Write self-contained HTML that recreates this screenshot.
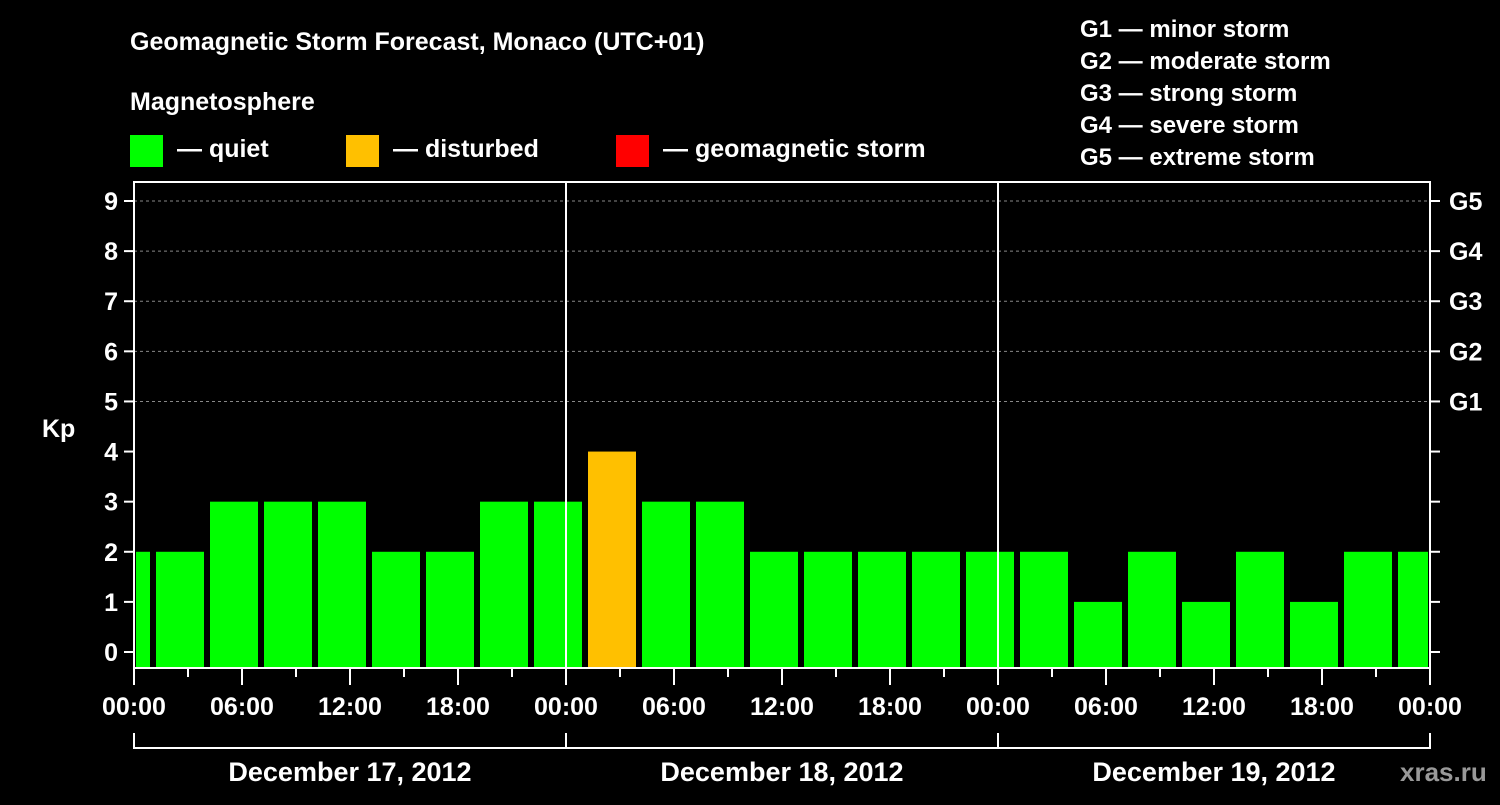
<!DOCTYPE html>
<html><head><meta charset="utf-8"><style>
body{margin:0;background:#000;width:1500px;height:800px;overflow:hidden}
svg text{font-family:"Liberation Sans",Arial,sans-serif;font-weight:bold;fill:#fff}
</style></head><body>
<svg id="c" width="1500" height="800" xmlns="http://www.w3.org/2000/svg">
<text x="130" y="50" font-size="25">Geomagnetic Storm Forecast, Monaco (UTC+01)</text>
<text x="130" y="110" font-size="25">Magnetosphere</text>
<rect x="130" y="135" width="33" height="32" fill="#00ff00"/>
<text x="177" y="157" font-size="25">— quiet</text>
<rect x="346" y="135" width="33" height="32" fill="#ffc000"/>
<text x="393" y="157" font-size="25">— disturbed</text>
<rect x="616" y="135" width="33" height="32" fill="#ff0000"/>
<text x="663" y="157" font-size="25">— geomagnetic storm</text>
<g font-size="24">
<text x="1080" y="37">G1 — minor storm</text>
<text x="1080" y="69">G2 — moderate storm</text>
<text x="1080" y="101">G3 — strong storm</text>
<text x="1080" y="133">G4 — severe storm</text>
<text x="1080" y="165">G5 — extreme storm</text>
</g>
<text x="42" y="437" font-size="25">Kp</text>
<text x="1400" y="781" font-size="26" style="fill:#999">xras.ru</text>
<g id="g"></g>
</svg>
<script>
const values=[2,2,3,3,3,2,2,3,3,4,3,3,2,2,2,2,2,2,1,2,1,2,1,2,2];
const yTicks=[0,1,2,3,4,5,6,7,8,9];
const gLabels=["G1","G2","G3","G4","G5"];
const xLabels=["00:00","06:00","12:00","18:00","00:00","06:00","12:00","18:00","00:00","06:00","12:00","18:00","00:00"];
const dates=["December 17, 2012","December 18, 2012","December 19, 2012"];
const L=134,R=1430,T=182,B=668,H=72;
const x=h=>L+(R-L)*h/H;
const y=v=>652-v*50.11;
const NS="http://www.w3.org/2000/svg";
const g=document.getElementById('g');
function mk(t,a,txt){const e=document.createElementNS(NS,t);for(const k in a)e.setAttribute(k,a[k]);if(txt!=null)e.textContent=txt;g.appendChild(e);return e;}
// grid
for(let v=5;v<=9;v++){
const e=mk('line',{x1:L,x2:R,y1:y(v),y2:y(v),stroke:'#888','stroke-dasharray':'3,3','stroke-width':1});


}
// bars
values.forEach((v,i)=>{
let h0=-2+3*i,h1=h0+3;
let x0=Math.max(x(h0),L)+ (h0<0?2:4), x1=Math.min(x(h1),R)-2;
const c=v>=5?'#ff0000':v>=4?'#ffc000':'#00ff00';
const e=mk('rect',{x:x0,y:y(v),width:x1-x0,height:B-y(v),fill:c});


});
// day separators
[24,48].forEach(h=>{const e=mk('line',{x1:x(h),x2:x(h),y1:T,y2:B,stroke:'#fff','stroke-width':2});

});
// frame
const f=mk('rect',{x:L,y:T,width:R-L,height:B-T,fill:'none',stroke:'#fff','stroke-width':2});


// y ticks
yTicks.forEach(v=>{
mk('line',{x1:L-10,x2:L,y1:y(v),y2:y(v),stroke:'#fff','stroke-width':2});
mk('line',{x1:R,x2:R+10,y1:y(v),y2:y(v),stroke:'#fff','stroke-width':2});
const t=mk('text',{x:L-16,y:y(v)+9,'font-size':25,'text-anchor':'end'},String(v));


});
gLabels.forEach((s,i)=>{
const t=mk('text',{x:R+19,y:y(5+i)+9,'font-size':25},s);


});
// x ticks
for(let h=0;h<=H;h+=3){
mk('line',{x1:x(h),x2:x(h),y1:B,y2:B+(h%6==0?17:9),stroke:'#fff','stroke-width':2});
}
xLabels.forEach((s,i)=>{
const t=mk('text',{x:x(i*6),y:715,'font-size':25,'text-anchor':'middle'},s);


});
// bracket
mk('line',{x1:L,x2:R,y1:748,y2:748,stroke:'#fff','stroke-width':2});
[0,24,48,72].forEach(h=>mk('line',{x1:x(h),x2:x(h),y1:733,y2:749,stroke:'#fff','stroke-width':2}));
dates.forEach((s,i)=>{
const t=mk('text',{x:x(i*24+12),y:781,'font-size':27,'text-anchor':'middle'},s);


});
</script>
</body></html>
